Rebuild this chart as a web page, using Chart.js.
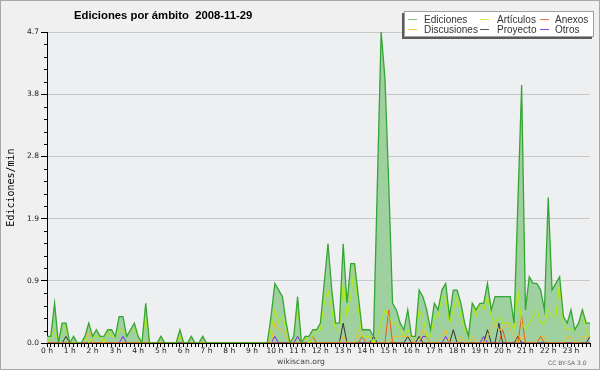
<!DOCTYPE html>
<html><head><meta charset="utf-8">
<script src="https://cdn.jsdelivr.net/npm/chart.js@4"></script>
<style>html,body{margin:0;padding:0;background:#f0f0f0}#wrap{width:600px;height:370px}</style>
</head><body><div id="wrap"><canvas id="c" width="600" height="370"></canvas></div>
<script>
// ---- data (10-minute slots, edits per minute) ----
const hourLabels = ['0 h','1 h','2 h','3 h','4 h','5 h','6 h','7 h','8 h','9 h','10 h','11 h','12 h','13 h','14 h','15 h','16 h','17 h','18 h','19 h','20 h','21 h','22 h','23 h'];
const slotMinutes = ['00','10','20','30','40','50'];

const ediciones = [
 0.1,0.1,0.6,0,0.3,0.3,0,0.1,0,0,0.1,0.3,
 0.1,0.2,0.1,0.1,0.2,0.2,0.1,0.4,0.4,0.1,0.2,0.3,
 0.1,0,0.6,0,0,0,0.1,0,0,0,0,0.2,
 0,0,0.1,0,0,0.1,0,0,0,0,0,0,
 0,0,0,0,0,0,0,0,0,0,0,0.4,
 0.9,0.8,0.7,0.3,0,0.1,0.7,0,0.1,0.1,0.2,0.2,
 0.3,0.9,1.5,0.8,0.3,0.3,1.5,0.6,1.2,1.2,0.7,0.2,
 0.2,0.2,0.1,2.4,4.7,4.0,2.4,0.6,0.5,0.3,0.2,0.5,
 0.1,0.1,0.8,0.7,0.5,0.2,0.6,0.5,0.8,0.9,0.4,0.8,
 0.8,0.6,0.3,0.1,0.6,0.5,0.6,0.6,0.9,0.5,0.7,0.7,
 0.7,0.7,0.7,0.3,2.1,3.9,0.5,1.0,0.9,0.9,0.8,0.5,
 2.2,0.8,0.9,1.0,0.4,0.3,0.5,0.2,0.3,0.5,0.3,0.3
];
const articulos = [
 0,0.1,0.2,0,0.3,0.2,0,0,0,0,0.1,0,
 0.1,0.1,0.1,0,0.2,0.1,0.1,0.2,0.2,0.1,0.2,0.2,
 0.1,0,0.4,0,0,0,0.1,0,0,0,0,0.1,
 0,0,0.1,0,0,0,0,0,0,0,0,0,
 0,0,0,0,0,0,0,0,0,0,0,0.2,
 0.5,0.3,0.4,0.2,0,0.1,0.6,0,0.1,0,0.1,0.2,
 0.2,0.6,0.8,0.5,0.2,0.2,0.9,0.4,0.7,1.2,0.5,0.1,
 0.1,0.1,0,0.1,0.3,0.5,0.4,0.3,0.3,0.2,0.1,0.2,
 0.1,0.1,0.5,0.4,0.1,0.1,0.4,0.4,0.7,0.7,0.3,0.5,
 0.7,0.4,0.2,0.1,0.6,0.4,0.6,0.5,0.7,0.4,0.3,0.4,
 0.3,0.3,0.3,0.2,0.8,0.3,0.2,0.3,0.4,0.5,0.3,0.3,
 0.5,0.4,0.4,0.9,0.3,0.2,0.2,0.2,0.3,0.5,0.2,0.1
];
const anexos = [
 0,0,0,0,0,0,0,0,0,0,0,0,
 0,0,0,0,0,0,0,0,0,0,0,0,
 0,0,0,0,0,0,0,0,0,0,0,0,
 0,0,0,0,0,0,0,0,0,0,0,0,
 0,0,0,0,0,0,0,0,0,0,0,0,
 0,0,0,0,0,0,0,0,0,0,0.1,0,
 0,0,0,0,0,0,0,0,0,0,0,0.1,
 0,0,0,0,0,0,0.5,0,0,0,0,0,
 0,0,0,0,0,0,0,0,0,0,0,0,
 0,0,0,0,0,0,0,0,0,0,0,0,
 0.2,0,0,0,0,0.4,0,0,0,0,0.1,0,
 0,0,0,0,0,0,0,0,0,0,0,0
];
const discusiones = [
 0,0,0,0,0,0,0,0,0,0,0,0.3,
 0,0,0,0,0,0,0,0,0,0,0,0,
 0,0,0,0,0,0,0,0,0,0,0,0.1,
 0,0,0,0,0,0.1,0,0,0,0,0,0,
 0,0,0,0,0,0,0,0,0,0,0,0,
 0.3,0.2,0.2,0.1,0,0,0,0,0.1,0,0,0,
 0,0,0,0,0,0,0.1,0,0,0,0.2,0.1,
 0.1,0.1,0,0,0,0,0,0.1,0.1,0.1,0.1,0.1,
 0.1,0,0,0.2,0.1,0,0,0,0.1,0.2,0,0,
 0,0.1,0,0,0.1,0,0,0,0.1,0.2,0.3,0.2,
 0.2,0.3,0.2,0.1,0,0.1,0,0,0,0,0.1,0.1,
 0,0,0,0,0,0.1,0.1,0,0,0.1,0.1,0.1
];
const proyecto = [
 0,0,0,0,0,0.1,0,0,0,0,0,0,
 0,0,0,0,0,0,0,0,0,0,0,0,
 0,0,0,0,0,0,0,0,0,0,0,0,
 0,0,0,0,0,0,0,0,0,0,0,0,
 0,0,0,0,0,0,0,0,0,0,0,0,
 0,0,0,0,0,0,0,0,0,0,0,0,
 0,0,0,0,0,0,0.3,0,0,0,0,0,
 0,0,0.1,0,0,0,0,0,0,0,0,0.1,
 0,0,0.1,0,0,0,0,0,0,0,0,0.2,
 0,0,0,0,0,0,0,0,0.2,0,0,0.3,
 0,0,0,0,0.1,0,0,0,0,0,0,0,
 0,0,0,0,0,0,0,0,0,0,0,0.1
];
const otros = [
 0,0,0,0,0,0,0,0,0,0,0,0,
 0,0,0,0,0,0,0,0,0.1,0,0,0,
 0,0,0,0,0,0,0,0,0,0,0,0,
 0,0,0,0,0,0,0,0,0,0,0,0,
 0,0,0,0,0,0,0,0,0,0,0,0,
 0.1,0,0,0,0,0,0.1,0,0,0,0,0,
 0,0,0,0,0,0,0,0,0,0,0,0,
 0,0,0,0,0,0,0,0,0,0,0,0,
 0,0,0,0.1,0.1,0,0,0,0,0.1,0,0,
 0,0,0,0,0,0,0,0.1,0,0,0,0,
 0,0,0,0,0,0,0,0,0,0,0,0,
 0,0,0,0,0,0,0,0,0,0,0,0
];
const yMax = 4.7;
const yTickLabels = ['0.0','0.9','1.9','2.8','3.8','4.7'];
const yMinorPerMajor = 5;
const titleText = 'Ediciones por ámbito  2008-11-29';
const yTitle = 'Ediciones/min';
const footerText = 'wikiscan.org';
const licenseText = 'CC BY-SA 3.0';

// ---- build ----
const slotLabels = [];
hourLabels.forEach((h, hi) => slotMinutes.forEach(m => slotLabels.push(hi + ':' + m)));
const yTickValues = [];
const nSteps = (yTickLabels.length - 1) * yMinorPerMajor;
for (let k = 0; k <= nSteps; k++) yTickValues.push(yMax * k / nSteps);

const series = [
  {label:'Ediciones', data:ediciones, borderColor:'#33a633', backgroundColor:'#9fd09f', fill:'origin', borderWidth:1.3},
  {label:'Artículos', data:articulos, borderColor:'#b2ee00'},
  {label:'Anexos', data:anexos, borderColor:'#ee5a14'},
  {label:'Discusiones', data:discusiones, borderColor:'#f2c020'},
  {label:'Proyecto', data:proyecto, borderColor:'#333333'},
  {label:'Otros', data:otros, borderColor:'#7a22ee'}
];
const legendColors = ['#7ec87e', '#c8ee50', '#ee7744', '#f6cc44', '#555555', '#8844ee'];
const datasets = series.map(s => Object.assign({fill:false, borderWidth:1, pointRadius:0, tension:0}, s));

const decor = {
  id:'decor',
  beforeDraw(chart){
    const {ctx, chartArea:a} = chart;
    ctx.save();
    ctx.fillStyle = '#f0f0f0'; ctx.fillRect(0,0,600,370);
    ctx.fillStyle = '#eeeff1'; ctx.fillRect(a.left, a.top, a.right-a.left, a.bottom-a.top);
    ctx.strokeStyle = '#a8a8a8'; ctx.lineWidth = 1; ctx.strokeRect(0.5,0.5,599,369);
    ctx.restore();
  },
  afterDraw(chart){
    const ctx = chart.ctx;
    const ys = chart.scales.y;
    ctx.save();
    // minor y ticks
    ctx.strokeStyle = '#000'; ctx.lineWidth = 1; ctx.beginPath();
    ys.ticks.forEach((t,i) => {
      if (i % yMinorPerMajor) {
        const py = Math.round(ys.getPixelForValue(t.value)) + 0.5;
        ctx.moveTo(ys.right - 3, py); ctx.lineTo(ys.right, py);
      }
    });
    ctx.stroke();
    // title
    ctx.fillStyle = '#000';
    ctx.font = 'bold 11.3px "Liberation Sans", Arial, sans-serif';
    ctx.textBaseline = 'alphabetic'; ctx.textAlign = 'left';
    ctx.fillText(titleText, 74, 18.5);
    // footer
    ctx.fillStyle = '#444';
    ctx.font = '7.7px "DejaVu Sans", sans-serif';
    ctx.textAlign = 'center';
    ctx.fillText(footerText, 301, 364);
    ctx.fillStyle = '#666';
    ctx.font = '6px "DejaVu Sans", sans-serif';
    ctx.textAlign = 'left';
    ctx.fillText(licenseText, 548, 365);
    // legend
    ctx.fillStyle = '#5a5a5a'; ctx.fillRect(402, 13, 190, 26);
    ctx.fillStyle = '#ffffff'; ctx.fillRect(404, 11, 190, 26);
    ctx.strokeStyle = '#a0a0a0'; ctx.lineWidth = 1; ctx.strokeRect(404.5, 11.5, 189, 25);
    const colX = [408, 480, 540], txtX = [424, 497, 555], rowY = [19.5, 29.5], baseY = [22.5, 32.5];
    ctx.font = '10px "Liberation Sans", Arial, sans-serif';
    chart.data.datasets.forEach((d, i) => {
      const c = i % 3, r = Math.floor(i / 3);
      ctx.strokeStyle = legendColors[i]; ctx.lineWidth = 1;
      ctx.beginPath(); ctx.moveTo(colX[c], rowY[r]); ctx.lineTo(colX[c] + 9, rowY[r]); ctx.stroke();
      ctx.fillStyle = '#333';
      ctx.fillText(d.label, txtX[c], baseY[r]);
    });
    ctx.restore();
  }
};

new Chart(document.getElementById('c'), {
  type:'line',
  data:{labels:slotLabels, datasets},
  options:{
    responsive:false, animation:false, devicePixelRatio:1,
    layout:{padding:{left:0, right:10, top:32, bottom:0}},
    plugins:{legend:{display:false}, tooltip:{enabled:false}, filler:{drawTime:'beforeDatasetsDraw'}},
    scales:{
      x:{
        type:'category', offset:false,
        grid:{drawOnChartArea:false, drawTicks:true, tickLength:4, tickColor:'#000'},
        border:{color:'#000', width:1},
        ticks:{autoSkip:false, maxRotation:0, minRotation:0, padding:0, color:'#222',
          font:{family:'"DejaVu Sans", sans-serif', size:7.5},
          callback:(v, i) => (i % slotMinutes.length === 0 ? hourLabels[i / slotMinutes.length] : '')},
        afterFit:s => { s.height = 27; }
      },
      y:{
        type:'linear', min:0, max:yMax,
        afterBuildTicks:s => { s.ticks = yTickValues.map(v => ({value:v})); },
        grid:{color:c => (c.index % yMinorPerMajor === 0 ? '#c8c8c8' : 'rgba(0,0,0,0)'),
              tickColor:c => (c.index % yMinorPerMajor === 0 ? '#000' : 'rgba(0,0,0,0)'),
              tickLength:6, drawOnChartArea:true},
        border:{color:'#000', width:1},
        ticks:{autoSkip:false, padding:2, color:'#222',
          font:{family:'"DejaVu Sans", sans-serif', size:7.5},
          callback:(v, i) => (i % yMinorPerMajor === 0 ? yTickLabels[i / yMinorPerMajor] : '')},
        title:{display:true, text:yTitle, color:'#000', padding:{top:5, bottom:0},
          font:{family:'"DejaVu Sans Mono", monospace', size:10}},
        afterFit:s => { s.width = 47; }
      }
    }
  },
  plugins:[decor]
});
</script></body></html>
